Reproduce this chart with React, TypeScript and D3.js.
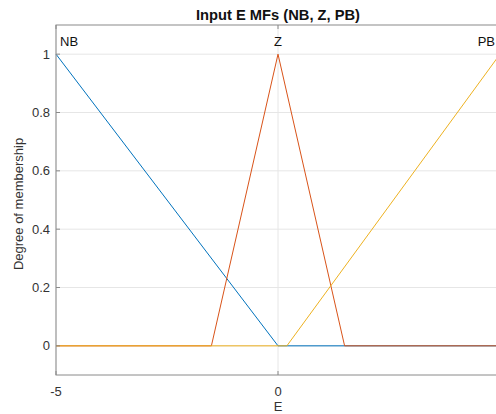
import React from "react";
import * as d3 from "d3";

const W = 496;
const H = 414;

const xTicks = [-5, 0, 5];
const yTicks = [0, 0.2, 0.4, 0.6, 0.8, 1];
const mfNames = ["NB", "Z", "PB"];
const nbX = [-5, 0, 5];
const nbY = [1, 0, 0];
const zX = [-5, -1.5, 0, 1.5, 5];
const zY = [0, 0, 1, 0, 0];
const pbX = [-5, 0.2, 5];
const pbY = [0, 0, 1];
const colors = ["#0072BD", "#D95319", "#EDB120"];

export default function App() {
  const x = d3.scaleLinear().domain([-5, 5]).range([56, 500]);
  const y = d3.scaleLinear().domain([-0.1, 1.1]).range([375, 25]);
  const line = d3
    .line<[number, number]>()
    .x((d) => x(d[0]))
    .y((d) => y(d[1]));
  const series = [
    nbX.map((v, i) => [v, nbY[i]] as [number, number]),
    zX.map((v, i) => [v, zY[i]] as [number, number]),
    pbX.map((v, i) => [v, pbY[i]] as [number, number]),
  ];
  const font = "'Liberation Sans', Arial, Helvetica, sans-serif";
  const axisColor = "#8a8a8a";
  const textColor = "#333333";
  return (
    <svg
      width={W}
      height={H}
      style={{ position: "absolute", left: 0, top: 0, background: "#fff" }}
      fontFamily={font}
    >
      <rect x={0} y={0} width={W} height={H} fill="#fff" />
      {yTicks.map((t) => (
        <line key={"gy" + t} x1={x(-5)} x2={x(5)} y1={y(t)} y2={y(t)} stroke="#e6e6e6" strokeWidth={1} />
      ))}
      {xTicks.map((t) => (
        <line key={"gx" + t} x1={x(t)} x2={x(t)} y1={y(-0.1)} y2={y(1.1)} stroke="#e6e6e6" strokeWidth={1} />
      ))}
      {series.map((s, i) => (
        <path key={"s" + i} d={line(s) || ""} fill="none" stroke={colors[i]} strokeWidth={1} />
      ))}
      <rect x={x(-5)} y={y(1.1)} width={x(5) - x(-5)} height={y(-0.1) - y(1.1)} fill="none" stroke={axisColor} strokeWidth={1} />
      {yTicks.map((t) => (
        <g key={"ty" + t}>
          <line x1={x(-5)} x2={x(-5) + 4} y1={y(t)} y2={y(t)} stroke={axisColor} />
          <line x1={x(5)} x2={x(5) - 4} y1={y(t)} y2={y(t)} stroke={axisColor} />
          <text x={x(-5) - 6} y={y(t)} dy="0.35em" textAnchor="end" fontSize={13} fill={textColor}>
            {String(t)}
          </text>
        </g>
      ))}
      {xTicks.map((t) => (
        <g key={"tx" + t}>
          <line x1={x(t)} x2={x(t)} y1={y(-0.1)} y2={y(-0.1) - 4} stroke={axisColor} />
          <line x1={x(t)} x2={x(t)} y1={y(1.1)} y2={y(1.1) + 4} stroke={axisColor} />
          <text x={x(t)} y={y(-0.1) + 21} textAnchor="middle" fontSize={13} fill={textColor}>
            {String(t)}
          </text>
        </g>
      ))}
      <text x={x(-5) + 4} y={46} fontSize={13} fill="#111">{mfNames[0]}</text>
      <text x={x(0)} y={46} fontSize={13} fill="#111" textAnchor="middle">{mfNames[1]}</text>
      <text x={495} y={46} fontSize={13} fill="#111" textAnchor="end">{mfNames[2]}</text>
      <text x={(x(-5) + x(5)) / 2} y={20} textAnchor="middle" fontSize={14.7} fontWeight="bold" fill="#111">
        Input E MFs (NB, Z, PB)
      </text>
      <text x={x(0)} y={411} textAnchor="middle" fontSize={13} fill={textColor}>E</text>
      <text transform={`translate(23, 204) rotate(-90)`} textAnchor="middle" fontSize={13} fill={textColor}>
        Degree of membership
      </text>
    </svg>
  );
}
